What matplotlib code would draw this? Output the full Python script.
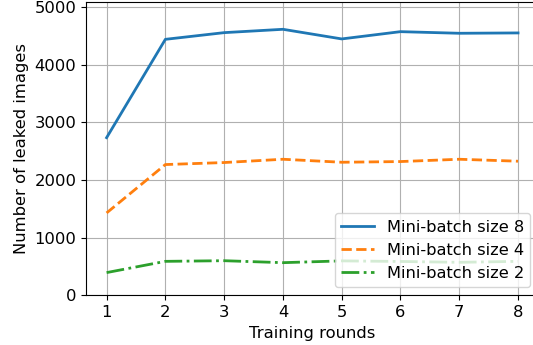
import matplotlib
matplotlib.use("Agg")
import matplotlib.pyplot as plt

# Leaked images per training round for each mini-batch size
rounds = [1, 2, 3, 4, 5, 6, 7, 8]
leaked_bs8 = [2736, 4441, 4557, 4615, 4448, 4574, 4546, 4552]
leaked_bs4 = [1431, 2270, 2305, 2362, 2310, 2322, 2362, 2328]
leaked_bs2 = [397, 592, 603, 569, 600, 590, 575, 592]

fs = 11.8

fig, ax = plt.subplots(figsize=(5.33, 3.45), dpi=100)
ax.plot(rounds, leaked_bs8, "-", linewidth=2, label="Mini-batch size 8")
ax.plot(rounds, leaked_bs4, "--", linewidth=2, label="Mini-batch size 4")
ax.plot(rounds, leaked_bs2, "-.", linewidth=2, label="Mini-batch size 2")

ax.set_xlim(0.65, 8.35)
ax.set_ylim(0, 5087)
ax.set_xticks(rounds)
ax.set_xlabel("Training rounds", fontsize=fs)
ax.set_ylabel("Number of leaked images", fontsize=fs)
ax.tick_params(labelsize=fs)
ax.grid(True)
ax.legend(loc="lower right", fontsize=11.7)

# right edge of the axes runs slightly past the canvas
fig.subplots_adjust(left=0.1614, right=1.0105, top=0.994, bottom=0.1435)
fig.savefig("out.png")
